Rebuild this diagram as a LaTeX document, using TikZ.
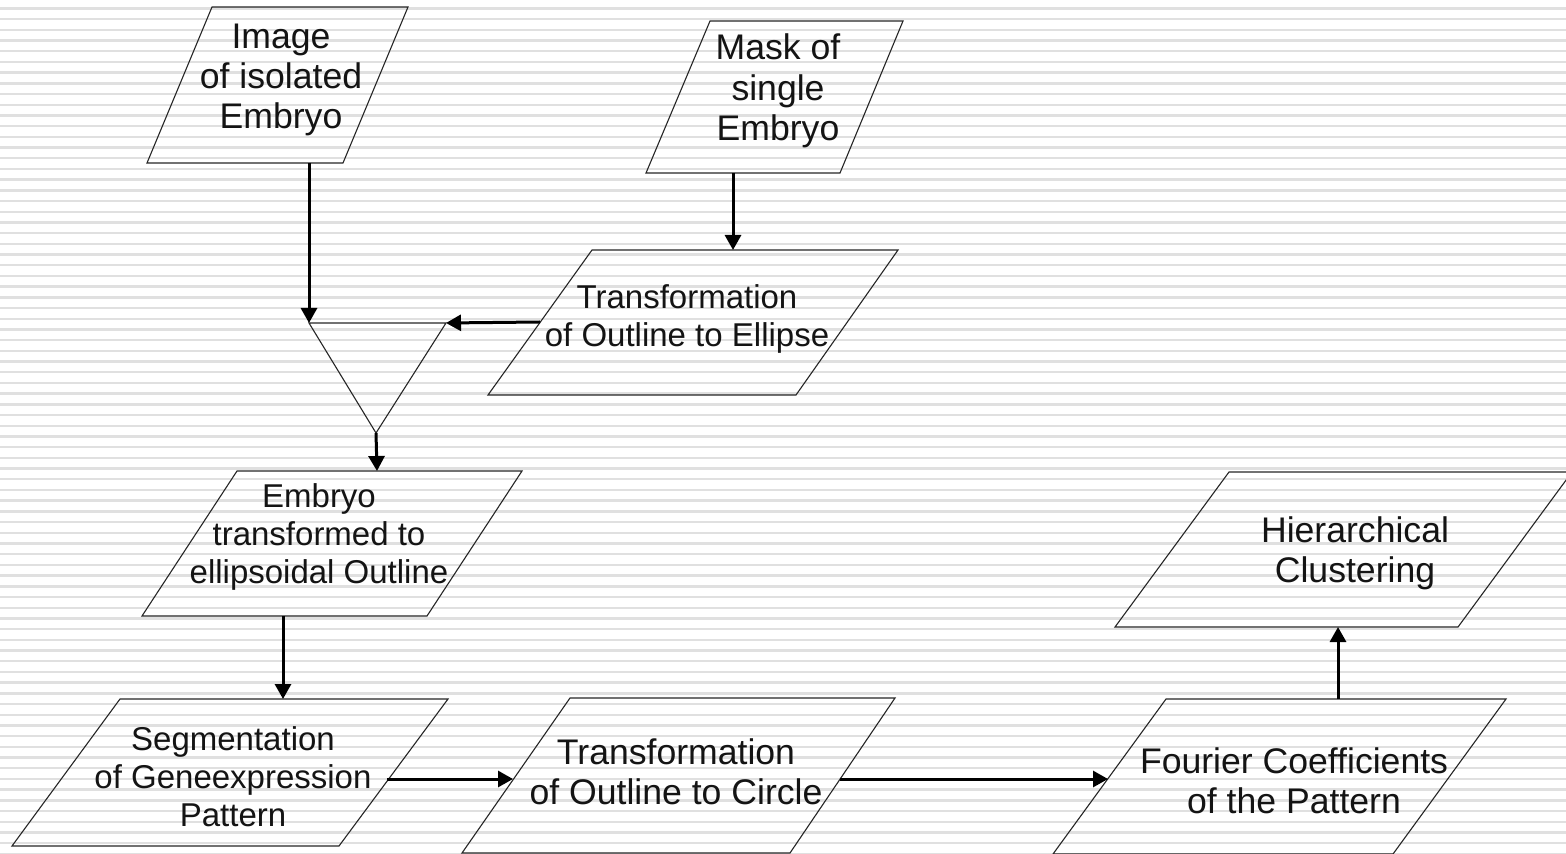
\documentclass[tikz,border=0pt]{standalone}
\usepackage{fontspec}
\setmainfont{Liberation Sans}
\usetikzlibrary{arrows.meta}
\begin{document}
\begin{tikzpicture}[x=0.5pt,y=-0.5pt,
  box/.style={draw=black!85, line width=0.55pt},
  txt/.style={align=center, inner sep=0pt, text=black!92, font=\fontsize{16.5}{19}\selectfont},
  txtbig/.style={align=center, inner sep=0pt, text=black!92, font=\fontsize{17.8}{20.2}\selectfont},
  flow/.style={-{Triangle[length=7.5pt,width=8pt]}, line width=1.5pt, black},
  stripe/.style={draw=black!12, line width=1.2pt}]
\useasboundingbox (0,0) rectangle (1566,854);
\fill[white] (0,0) rectangle (1566,854);
\foreach \k in {0,...,79} \draw[stripe] (0,8.5+10.7*\k) -- (1566,8.5+10.7*\k);

% Image of isolated Embryo
\draw[box] (212,7) -- (408,7) -- (343,163) -- (147,163) -- cycle;
\node[txtbig] (img) at (281,80) {Image\\of isolated\\Embryo};
\coordinate (img-out) at (309,163);

% Mask of single Embryo
\draw[box] (710,21) -- (903,21) -- (840,173) -- (646,173) -- cycle;
\node[txtbig] (mask) at (778,91) {Mask of\\single\\Embryo};
\coordinate (mask-out) at (733,173);

% Transformation of Outline to Ellipse
\draw[box] (592,250) -- (898,250) -- (796,395) -- (488,395) -- cycle;
\node[txt] (ell) at (687,319) {Transformation\\of Outline to Ellipse};
\coordinate (ell-in) at (733,250);
\coordinate (ell-out) at (540,322);

% merge triangle
\draw[box] (309,323) -- (446,323) -- (376,433) -- cycle;
\coordinate (mrg-l) at (309,323);
\coordinate (mrg-r) at (446,323);
\coordinate (mrg-b) at (376,433);

% Embryo transformed
\draw[box] (237,471) -- (522,471) -- (427,616) -- (142,616) -- cycle;
\node[txt] (etr) at (319,537) {Embryo\\transformed to\\ellipsoidal Outline};
\coordinate (etr-in) at (377,471);
\coordinate (etr-out) at (283,616);

% Segmentation
\draw[box] (120,699) -- (448,699) -- (339,846) -- (12,846) -- cycle;
\node[txt] (seg) at (233,777) {Segmentation\\of Geneexpression\\Pattern};
\coordinate (seg-in) at (283,699);
\coordinate (seg-out) at (387,779);

% Transformation of Outline to Circle
\draw[box] (570,698) -- (895,698) -- (790,853) -- (462,853) -- cycle;
\node[txtbig] (cir) at (676,772) {Transformation\\of Outline to Circle};
\coordinate (cir-in) at (513,779);
\coordinate (cir-out) at (840,779);

% Fourier
\draw[box] (1166,699) -- (1506,699) -- (1393,854) -- (1053,854) -- cycle;
\node[txtbig] (fou) at (1294,781) {Fourier Coefficients\\of the Pattern};
\coordinate (fou-in) at (1108,779);
\coordinate (fou-out) at (1338,699);

% Hierarchical Clustering
\draw[box] (1229,472) -- (1572,472) -- (1458,627) -- (1115,627) -- cycle;
\node[txtbig] (hie) at (1355,553) {Hierarchical\\Clustering};
\coordinate (hie-in) at (1338,627);

% connectors
\draw[flow] (img-out) -- (mrg-l);
\draw[flow] (mask-out) -- (ell-in);
\draw[flow] (ell-out) -- (mrg-r);
\draw[flow] (mrg-b) -- (etr-in);
\draw[flow] (etr-out) -- (seg-in);
\draw[flow] (seg-out) -- (cir-in);
\draw[flow] (cir-out) -- (fou-in);
\draw[flow] (fou-out) -- (hie-in);
\end{tikzpicture}
\end{document}
